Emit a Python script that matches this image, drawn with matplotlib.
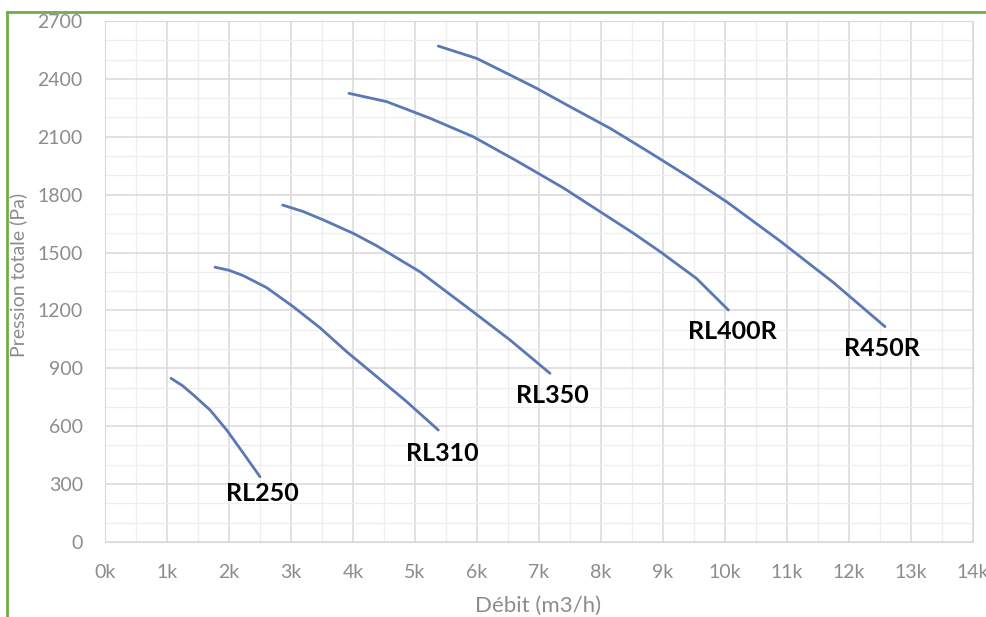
import numpy as np
import matplotlib.pyplot as plt
from matplotlib.lines import Line2D
from matplotlib.ticker import MultipleLocator, FuncFormatter

# courbes ventilateurs (debit m3/h, pression Pa)
rl250_x = [1065, 1250, 1425, 1694, 1963, 2231, 2500]
rl250_y = [848, 810, 762, 684, 580, 460, 338]

rl310_x = [1774, 2000, 2231, 2608, 3037, 3468, 3898, 4382, 4866, 5376]
rl310_y = [1424, 1408, 1380, 1318, 1219, 1110, 986, 857, 727, 580]

rl350_x = [2866, 3200, 3521, 4000, 4382, 5081, 5887, 6532, 7177]
rl350_y = [1746, 1712, 1669, 1600, 1535, 1400, 1205, 1047, 874]

rl400_x = [3935, 4543, 5242, 5940, 6640, 7392, 7984, 8500, 8952, 9543, 10054]
rl400_y = [2325, 2282, 2196, 2100, 1975, 1835, 1712, 1605, 1505, 1365, 1202]

r450_x = [5376, 5995, 6479, 6963, 7500, 8145, 8763, 9400, 10027, 10887, 11747, 12581]
r450_y = [2570, 2506, 2429, 2351, 2256, 2144, 2023, 1895, 1763, 1560, 1345, 1116]

names = ['RL250', 'RL310', 'RL350', 'RL400R', 'R450R']
label_x = [2532, 5435, 7210, 10113, 12532]
label_y = [249, 456, 757, 1093, 1005]

plt.rcParams['font.family'] = ['Lato', 'DejaVu Sans']

fig = plt.figure(figsize=(9.86, 6.17), dpi=100)
ax = fig.add_axes([0.1065, 0.1216, 0.8803, 0.8444])

col = '#5a78b4'
for xs, ys in [(rl250_x, rl250_y), (rl310_x, rl310_y), (rl350_x, rl350_y),
               (rl400_x, rl400_y), (r450_x, r450_y)]:
    ax.plot(xs, ys, color=col, lw=2, solid_capstyle='round', solid_joinstyle='round')

for n, lx, ly in zip(names, label_x, label_y):
    ax.text(lx, ly, n, ha='center', va='center', fontsize=18, fontweight='bold', color='black')

ax.set_xlim(0, 14000)
ax.set_ylim(0, 2700)
ax.xaxis.set_major_locator(MultipleLocator(1000))
ax.xaxis.set_minor_locator(MultipleLocator(500))
ax.yaxis.set_major_locator(MultipleLocator(300))
ax.yaxis.set_minor_locator(MultipleLocator(100))
ax.xaxis.set_major_formatter(FuncFormatter(lambda v, p: '%dk' % int(round(v / 1000))))

ax.grid(which='major', color='#d9d9d9', lw=1.1)
ax.grid(which='minor', color='#eeeeee', lw=0.9)
ax.set_axisbelow(True)
for s in ax.spines.values():
    s.set_color('#d9d9d9')
ax.tick_params(which='both', length=0)
ax.tick_params(axis='x', pad=16, labelsize=14, labelcolor='#8c8c8c')
ax.tick_params(axis='y', pad=16, labelsize=14, labelcolor='#8c8c8c')

fig.text(538 / 986, 1 - 606 / 617, 'Débit (m3/h)', fontsize=16, color='#8c8c8c',
         ha='center', va='center')
fig.text(18 / 986, 1 - 275 / 617, 'Pression totale (Pa)', fontsize=14, color='#8c8c8c',
         ha='center', va='center', rotation=90)

# cadre vert
fig.add_artist(Line2D([7 / 986, 7 / 986], [0, 1 - 12 / 617], color='#70ad47', lw=2))
fig.add_artist(Line2D([7 / 986, 1], [1 - 12 / 617, 1 - 12 / 617], color='#70ad47', lw=2))

plt.savefig('out.png', dpi=100)
